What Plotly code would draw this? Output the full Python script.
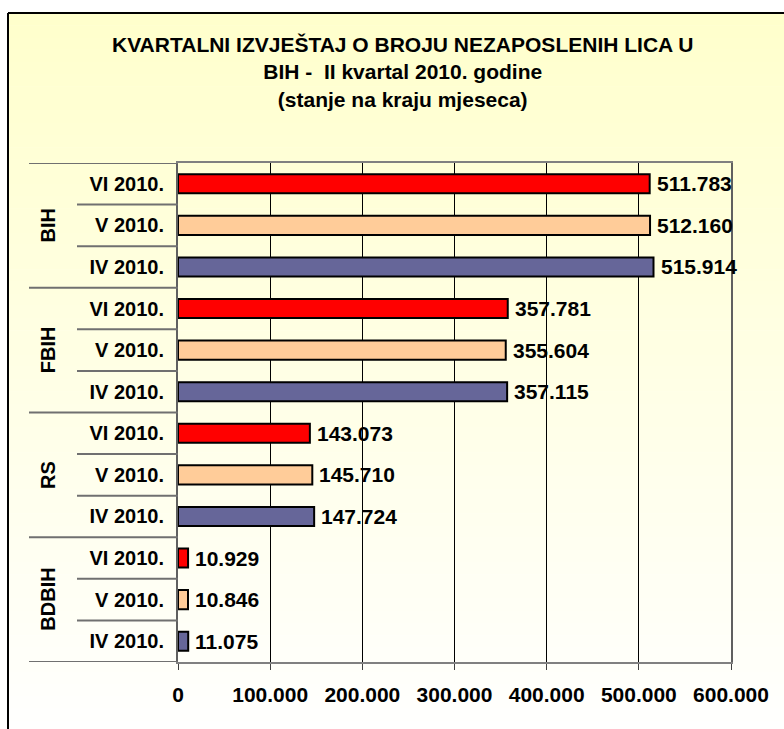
import plotly.graph_objects as go

# ---- data ----
regions = ["BIH", "FBIH", "RS", "BDBIH"]
months = ["VI 2010.", "V 2010.", "IV 2010."]
vi_2010 = [511783, 357781, 143073, 10929]
v_2010 = [512160, 355604, 145710, 10846]
iv_2010 = [515914, 357115, 147724, 11075]
x_tick_values = [0, 100000, 200000, 300000, 400000, 500000, 600000]
title_lines = ["KVARTALNI IZVJEŠTAJ O BROJU NEZAPOSLENIH LICA U",
               "BIH -  II kvartal 2010. godine",
               "(stanje na kraju mjeseca)"]

series = [vi_2010, v_2010, iv_2010]
colors = ["#FF0000", "#FFCC99", "#666699"]

W, H = 784, 729
L, R, T, B = 178, 731, 163, 662  # plot area pixel bounds


def px2x(px):
    return (px - L) / (R - L)


def py2y(py):
    return (B - py) / (B - T)


FONT = "Liberation Sans, Arial, sans-serif"
BAR_W = 0.46

fig = go.Figure()
n_m = len(months)
annotations = []
for m, (name, vals, col) in enumerate(zip(months, series, colors)):
    ys = [n_m * g + m for g in range(len(regions))]
    fig.add_trace(go.Bar(
        x=vals, y=ys, orientation="h", name=name, width=BAR_W,
        marker=dict(color=col, line=dict(color="#000000", width=2)),
        showlegend=False, hoverinfo="x+y",
    ))
    for v, yy in zip(vals, ys):
        annotations.append(dict(
            x=v, y=yy, xref="x", yref="y", text=f"{v:,}".replace(",", "."),
            showarrow=False, xanchor="left", yanchor="middle", xshift=5,
            font=dict(family=FONT, size=21, color="#000000", weight="bold"),
        ))

tickvals = [n_m * g + m for g in range(len(regions)) for m in range(n_m)]
ticktext = [months[m] for g in range(len(regions)) for m in range(n_m)]

# group labels
for g, reg in enumerate(regions):
    annotations.append(dict(
        x=px2x(48), y=n_m * g + (n_m - 1) / 2, xref="paper", yref="y",
        text=reg, textangle=-90, showarrow=False,
        xanchor="center", yanchor="middle",
        font=dict(family=FONT, size=20, color="#000000", weight="bold"),
    ))

# title
annotations.append(dict(
    x=px2x(402), y=py2y(72), xref="paper", yref="paper",
    text="<br>".join(title_lines), showarrow=False,
    xanchor="center", yanchor="middle", align="center",
    font=dict(family=FONT, size=21, color="#000000", weight="bold"),
))

shapes = []
# background gradient (vertical) in paper coords
n_strips = 60
top_px, bot_px = 13, 745
c0 = (255, 255, 204)
c1 = (255, 255, 255)
for i in range(n_strips):
    y0p = top_px + (bot_px - top_px) * i / n_strips
    y1p = top_px + (bot_px - top_px) * (i + 1) / n_strips
    t = (i + 0.5) / n_strips
    c = tuple(round(c0[k] + (c1[k] - c0[k]) * t) for k in range(3))
    shapes.append(dict(
        type="rect", xref="paper", yref="paper",
        x0=px2x(8), x1=px2x(800), y0=py2y(y1p + 0.6), y1=py2y(y0p),
        fillcolor=f"rgb{c}", line=dict(width=0), layer="below",
    ))
# chart border (top and left)
shapes.append(dict(type="line", xref="paper", yref="paper",
                   x0=px2x(8), x1=px2x(800), y0=py2y(13), y1=py2y(13),
                   line=dict(color="#000000", width=2)))
shapes.append(dict(type="line", xref="paper", yref="paper",
                   x0=px2x(8), x1=px2x(8), y0=py2y(13), y1=py2y(740),
                   line=dict(color="#000000", width=2)))

# category divider lines
n_rows = len(tickvals)
for k in range(n_rows + 1):
    yb = k - 0.5
    x0 = px2x(29) if k % n_m == 0 else px2x(77)
    shapes.append(dict(type="line", xref="paper", yref="y",
                       x0=x0, x1=0, y0=yb, y1=yb,
                       line=dict(color="#707070", width=2)))

fig.update_layout(
    width=W, height=H,
    margin=dict(l=L, r=W - R, t=T, b=H - B, autoexpand=False),
    paper_bgcolor="#FFFFFF", plot_bgcolor="rgba(0,0,0,0)",
    barmode="overlay",
    separators=",.",
    font=dict(family=FONT, color="#000000"),
    annotations=annotations, shapes=shapes,
    xaxis=dict(
        range=[0, 600000], tickvals=x_tick_values, tickformat=",d",
        showgrid=True, gridcolor="#000000", gridwidth=1,
        showline=True, linecolor="#808080", linewidth=2, mirror=True,
        ticks="outside", ticklen=6, tickcolor="#404040", tickwidth=1,
        tickfont=dict(family=FONT, size=21, color="#000000", weight="bold"),
        ticklabelstandoff=7, zeroline=False, fixedrange=True, automargin=False,
    ),
    yaxis=dict(
        range=[n_rows - 0.5, -0.5], tickvals=tickvals, ticktext=ticktext,
        showgrid=False, zeroline=False,
        showline=True, linecolor="#606060", linewidth=2, mirror=True,
        ticks="", ticklabelstandoff=8,
        tickfont=dict(family=FONT, size=20, color="#000000", weight="bold"),
        fixedrange=True, automargin=False,
    ),
)

fig.write_html("out.html", config={"displayModeBar": False},
               post_script="document.body.style.margin='0';")
